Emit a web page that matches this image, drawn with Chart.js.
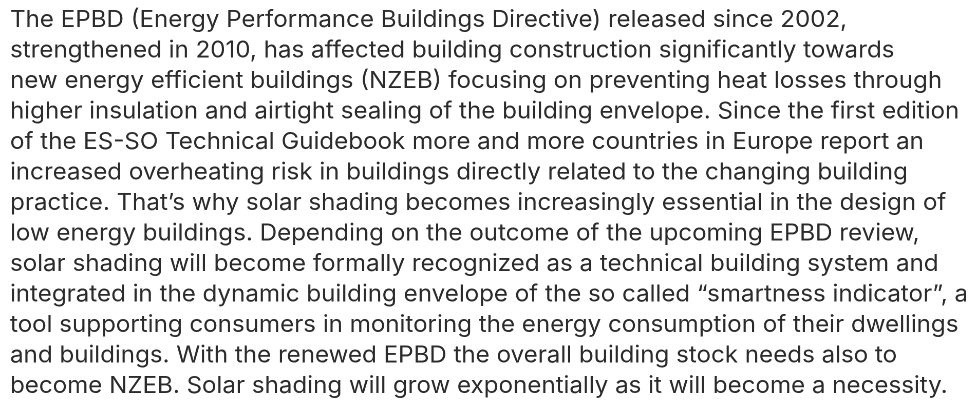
<!DOCTYPE html>
<html><head><meta charset="utf-8">
<script src="https://cdn.jsdelivr.net/npm/chart.js@4"></script>
<style>
html,body{margin:0;padding:0;background:#fff;overflow:hidden;width:971px;height:400px}
#wrap{position:absolute;left:0;top:0;height:420px;transform-origin:0 0}
</style></head><body>
<div id="wrap"><canvas id="c"></canvas></div>
<script>
const paragraphLines = [
  "The EPBD (Energy Performance Buildings Directive) released since 2002,",
  "strengthened in 2010, has affected building construction significantly towards",
  "new energy efficient buildings (NZEB) focusing on preventing heat losses through",
  "higher insulation and airtight sealing of the building envelope. Since the first edition",
  "of the ES-SO Technical Guidebook more and more countries in Europe report an",
  "increased overheating risk in buildings directly related to the changing building",
  "practice. That\u2019s why solar shading becomes increasingly essential in the design of",
  "low energy buildings. Depending on the outcome of the upcoming EPBD review,",
  "solar shading will become formally recognized as a technical building system and",
  "integrated in the dynamic building envelope of the so called \u201csmartness indicator\u201d, a",
  "tool supporting consumers in monitoring the energy consumption of their dwellings",
  "and buildings. With the renewed EPBD the overall building stock needs also to",
  "become NZEB. Solar shading will grow exponentially as it will become a necessity."
];
const FONT_FAMILY = 'Inter';
const FONT_SIZE = 23.5;
const LINE_HEIGHT = 30.5;
const LEFT = 10, TEXT_WIDTH = 958;

const m = document.createElement('canvas').getContext('2d');
m.font = `400 ${FONT_SIZE}px ${FONT_FAMILY}`;
const maxW = Math.max(...paragraphLines.map(l => m.measureText(l).width));
const sx = TEXT_WIDTH / maxW;
const wrap = document.getElementById('wrap');
wrap.style.width = (971 / sx) + 'px';
wrap.style.transform = `scaleX(${sx})`;

new Chart(document.getElementById('c'), {
  type: 'bar',
  data: { labels: [], datasets: [] },
  options: {
    responsive: true, maintainAspectRatio: false, animation: false, devicePixelRatio: 2,
    layout: { padding: { left: LEFT / sx, top: 0, right: 0, bottom: 0 } },
    plugins: {
      legend: { display: false }, tooltip: { enabled: false },
      title: {
        display: true, text: paragraphLines, align: 'start', color: '#2b2b2b',
        font: { family: FONT_FAMILY, size: FONT_SIZE, weight: 'normal', lineHeight: LINE_HEIGHT + 'px' },
        padding: { top: 4.5, bottom: 0 }
      }
    },
    scales: { x: { display: false }, y: { display: false } }
  }
});
</script>
</body></html>
